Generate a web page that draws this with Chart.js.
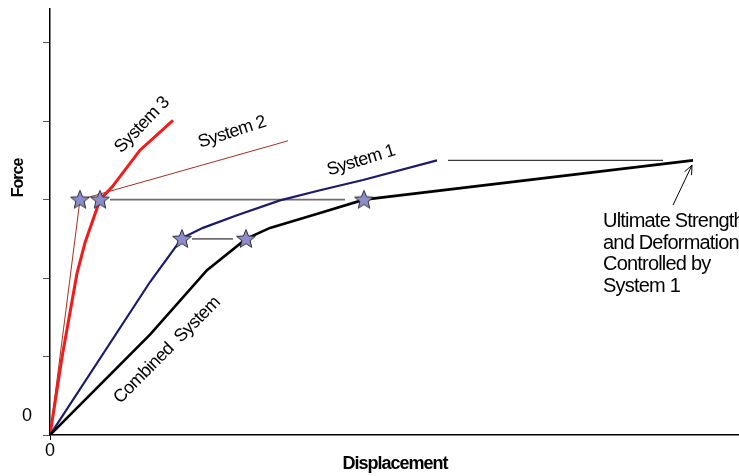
<!DOCTYPE html>
<html>
<head>
<meta charset="utf-8">
<script src="https://cdn.jsdelivr.net/npm/chart.js@4/dist/chart.umd.min.js"></script>
<style>
  html, body { margin: 0; padding: 0; background: #fff; }
  #wrap { width: 739px; height: 476px; }
</style>
</head>
<body>
<div id="wrap"><canvas id="chartContainer1" width="739" height="476"></canvas></div>
<script>
"use strict";

// 1: data (displacement / force in arbitrary units)
let combinedX = [0, 1.0, 1.57, 1.96, 2.20, 2.70, 3.14, 6.43];
let combinedY = [0, 1.28, 2.10, 2.50, 2.64, 2.83, 3.00, 3.50];

let system1X = [0, 1.0, 1.32, 1.53, 1.87, 2.30, 2.70, 3.13, 3.87];
let system1Y = [0, 1.95, 2.51, 2.64, 2.80, 2.99, 3.12, 3.25, 3.50];

let system2X = [0, 0.30, 2.38];
let system2Y = [0, 3.00, 3.75];

let system3X = [0, 0.12, 0.27, 0.35, 0.50, 0.62, 0.90, 1.23];
let system3Y = [0, 0.99, 2.06, 2.45, 3.00, 3.16, 3.63, 4.01];

// yield points
let starX = [0.30, 0.50, 1.32, 1.96, 3.14];
let starY = [3.00, 3.00, 2.50, 2.50, 3.00];

// horizontal guide lines
let guideY = [3.00, 2.50, 3.50];
let guideFrom = [0.60, 1.42, 3.98];
let guideTo = [2.95, 1.83, 6.13];

let yTicks = [0, 1, 2, 3, 4, 5];
let xTicks = [0];

// annotations
let curveLabels = [
	{ text: "System 3", x: 0.92, y: 3.95, angle: -46 },
	{ text: "System 2", x: 1.82, y: 3.86, angle: -18 },
	{ text: "System 1", x: 3.11, y: 3.50, angle: -17 },
	{ text: "Combined  System", x: 1.17, y: 1.08, angle: -45 }
];
let noteLines = ["Ultimate Strength", "and Deformation", "Controlled by", "System 1"];
let noteAt = { x: 5.53, y: 2.65 };
let arrowFrom = { x: 6.23, y: 2.93 };
let arrowTo = { x: 6.42, y: 3.44 };

const FONT = "'Liberation Sans', Arial, sans-serif";

// 2: helpers
function toPoints(xs, ys) {
	let pts = [];
	for (let i = 0; i < xs.length; i++) pts.push({ x: xs[i], y: ys[i] });
	return pts;
}

function makeStar() {
	let c = document.createElement("canvas");
	c.width = 22;
	c.height = 22;
	let g = c.getContext("2d");
	g.beginPath();
	for (let i = 0; i < 10; i++) {
		let r = i % 2 === 0 ? 9.8 : 4.3;
		let a = -Math.PI / 2 + i * Math.PI / 5;
		let px = 11 + r * Math.cos(a);
		let py = 11.5 + r * Math.sin(a);
		if (i === 0) g.moveTo(px, py); else g.lineTo(px, py);
	}
	g.closePath();
	g.fillStyle = "#8d8dc9";
	g.fill();
	g.lineWidth = 1;
	g.strokeStyle = "#2a2a3a";
	g.stroke();
	return c;
}

// no extra padding around the scales, so the plot fills the canvas like the original
function noPad(s) {
	s.paddingTop = 0;
	s.paddingBottom = 0;
	s.paddingLeft = 0;
	s.paddingRight = 0;
}

// text + arrow drawn on top of the plot
const annotate = {
	id: "annotate",
	afterDatasetsDraw(chart) {
		const ctx = chart.ctx;
		const xs = chart.scales.x, ys = chart.scales.y;
		ctx.save();
		ctx.fillStyle = "#000";

		// rotated curve names
		ctx.font = "18px " + FONT;
		ctx.letterSpacing = "-0.6px";
		ctx.textAlign = "center";
		ctx.textBaseline = "middle";
		for (const l of curveLabels) {
			ctx.save();
			ctx.translate(xs.getPixelForValue(l.x), ys.getPixelForValue(l.y));
			ctx.rotate(l.angle * Math.PI / 180);
			ctx.fillText(l.text, 0, 0);
			ctx.restore();
		}

		// note block
		ctx.font = "20px " + FONT;
		ctx.letterSpacing = "-0.8px";
		ctx.textAlign = "left";
		ctx.textBaseline = "alphabetic";
		let nx = xs.getPixelForValue(noteAt.x);
		let ny = ys.getPixelForValue(noteAt.y);
		noteLines.forEach((t, i) => ctx.fillText(t, nx, ny + i * 21.5));

		// arrow
		let ax = xs.getPixelForValue(arrowFrom.x), ay = ys.getPixelForValue(arrowFrom.y);
		let bx = xs.getPixelForValue(arrowTo.x), by = ys.getPixelForValue(arrowTo.y);
		let ang = Math.atan2(by - ay, bx - ax);
		ctx.strokeStyle = "#000";
		ctx.lineWidth = 1;
		ctx.beginPath();
		ctx.moveTo(ax, ay);
		ctx.lineTo(bx, by);
		ctx.moveTo(bx - 10 * Math.cos(ang - 0.4), by - 10 * Math.sin(ang - 0.4));
		ctx.lineTo(bx, by);
		ctx.lineTo(bx - 10 * Math.cos(ang + 0.4), by - 10 * Math.sin(ang + 0.4));
		ctx.stroke();

		// axis titles
		ctx.font = "bold 16px " + FONT;
		ctx.letterSpacing = "-1px";
		ctx.textAlign = "center";
		ctx.textBaseline = "middle";
		ctx.save();
		ctx.translate(19, 178);
		ctx.rotate(-Math.PI / 2);
		ctx.fillText("Force", 0, 0);
		ctx.restore();
		ctx.font = "bold 18px " + FONT;
		ctx.fillText("Displacement", 395, 464);
		ctx.restore();
	}
};

// 3: build datasets
function buildDatasets() {
	let sets = [];
	sets.push({
		label: "yield",
		data: toPoints(starX, starY),
		showLine: false,
		pointStyle: makeStar(),
		pointRadius: 10,
		order: 0
	});
	sets.push({ label: "Combined System", data: toPoints(combinedX, combinedY), borderColor: "#000000", borderWidth: 2.6, order: 1 });
	sets.push({ label: "System 1", data: toPoints(system1X, system1Y), borderColor: "#1b1b6b", borderWidth: 2.2, order: 2 });
	sets.push({ label: "System 3", data: toPoints(system3X, system3Y), borderColor: "#f21b1b", borderWidth: 3, order: 3 });
	sets.push({ label: "System 2", data: toPoints(system2X, system2Y), borderColor: "#a2321e", borderWidth: 1, order: 4 });
	for (let i = 0; i < guideY.length; i++) {
		sets.push({
			label: "guide" + i,
			data: [{ x: guideFrom[i], y: guideY[i] }, { x: guideTo[i], y: guideY[i] }],
			borderColor: i === 2 ? "#3a3a3a" : "#6e6e6e",
			borderWidth: i === 2 ? 1.2 : 1.6,
			order: 5
		});
	}
	for (const s of sets) {
		s.fill = false;
		s.tension = 0;
		if (s.label !== "yield") s.pointRadius = 0;
	}
	return sets;
}

let chart = new Chart(document.querySelector("#chartContainer1"), {
	type: "line",
	data: { datasets: buildDatasets() },
	plugins: [annotate],
	options: {
		responsive: false,
		animation: false,
		devicePixelRatio: 1,
		layout: { autoPadding: false, padding: { top: 9, left: 0, right: 0, bottom: 0 } },
		plugins: { legend: { display: false }, tooltip: { enabled: false } },
		scales: {
			x: {
				type: "linear",
				min: 0,
				max: 6.89,
				afterFit(s) { s.height = 41; noPad(s); },
				afterBuildTicks(s) { s.ticks = xTicks.map(v => ({ value: v })); },
				grid: { drawOnChartArea: false, drawTicks: true, tickLength: 5, tickColor: "#000" },
				border: { color: "#000", width: 1.5 },
				ticks: {
					padding: 0,
					color: "#000",
					maxRotation: 0,
					autoSkip: false,
					font: { family: FONT, size: 18 },
					callback: v => String(v)
				}
			},
			y: {
				min: 0,
				max: 5.43,
				afterFit(s) { s.width = 50; noPad(s); },
				afterBuildTicks(s) { s.ticks = yTicks.map(v => ({ value: v })); },
				grid: { drawOnChartArea: false, drawTicks: true, tickLength: 7, tickColor: "#555" },
				border: { color: "#000", width: 1.5 },
				ticks: {
					padding: 11,
					labelOffset: -19,
					color: "#000",
					font: { family: FONT, size: 18 },
					callback: v => (v === 0 ? "0" : "")
				}
			}
		}
	}
});
</script>
</body>
</html>
